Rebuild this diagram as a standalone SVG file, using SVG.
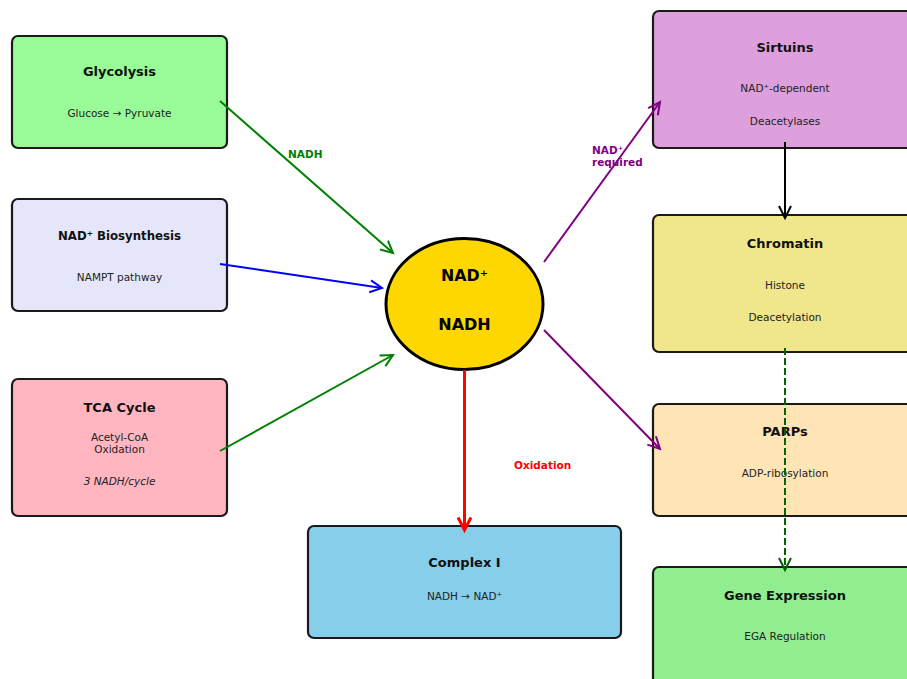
<svg xmlns="http://www.w3.org/2000/svg" width="907" height="679" viewBox="0 0 907 679">
<style>
.box{stroke:#1a1a1a;stroke-width:2.2}
.t{font-family:"DejaVu Sans",sans-serif;font-size:13px;font-weight:bold;fill:#111;text-anchor:middle}
.big{font-size:16px;fill:#000}
.s{font-family:"DejaVu Sans",sans-serif;font-size:10.5px;fill:#222;text-anchor:middle}
.lbl{font-family:"DejaVu Sans",sans-serif;font-size:10.5px;font-weight:bold}
.c{fill:none}
</style>
<defs>
<marker id="ag" markerUnits="userSpaceOnUse" markerWidth="16" markerHeight="16" viewBox="0 0 16 16" refX="13" refY="8" orient="auto"><path d="M1,2 L13,8 L1,14" fill="none" stroke="#008000" stroke-width="2"/></marker>
<marker id="ab" markerUnits="userSpaceOnUse" markerWidth="16" markerHeight="16" viewBox="0 0 16 16" refX="13" refY="8" orient="auto"><path d="M1,2 L13,8 L1,14" fill="none" stroke="#0000ff" stroke-width="2"/></marker>
<marker id="ap" markerUnits="userSpaceOnUse" markerWidth="16" markerHeight="16" viewBox="0 0 16 16" refX="13" refY="8" orient="auto"><path d="M1,2 L13,8 L1,14" fill="none" stroke="#800080" stroke-width="2"/></marker>
<marker id="ar" markerUnits="userSpaceOnUse" markerWidth="18" markerHeight="18" viewBox="0 0 18 18" refX="14" refY="9" orient="auto"><path d="M1.5,2.5 L14,9 L1.5,15.5" fill="none" stroke="#ff0000" stroke-width="3"/></marker>
<marker id="ak" markerUnits="userSpaceOnUse" markerWidth="16" markerHeight="16" viewBox="0 0 16 16" refX="13" refY="8" orient="auto"><path d="M1,2 L13,8 L1,14" fill="none" stroke="#000" stroke-width="2"/></marker>
<marker id="ad" markerUnits="userSpaceOnUse" markerWidth="16" markerHeight="16" viewBox="0 0 16 16" refX="13" refY="8" orient="auto"><path d="M1,2 L13,8 L1,14" fill="none" stroke="#006400" stroke-width="2"/></marker>
</defs>

<g id="glycolysis">
<rect class="box" x="12" y="36" width="215" height="112" rx="6" fill="#98FB98"/>
<text class="t" x="119.5" y="76">Glycolysis</text>
<text class="s" x="119.5" y="117">Glucose → Pyruvate</text>
</g>
<g id="biosynthesis">
<rect class="box" x="12" y="199" width="215" height="112" rx="6" fill="#E6E6FA"/>
<text class="t" x="119.5" y="240" textLength="123" lengthAdjust="spacingAndGlyphs">NAD⁺ Biosynthesis</text>
<text class="s" x="119.5" y="281">NAMPT pathway</text>
</g>
<g id="tca">
<rect class="box" x="12" y="379" width="215" height="137" rx="6" fill="#FFB6C1"/>
<text class="t" x="119.5" y="412">TCA Cycle</text>
<text class="s" x="119.5" y="441">Acetyl-CoA</text>
<text class="s" x="119.5" y="453">Oxidation</text>
<text class="s" x="119.5" y="485" font-style="italic">3 NADH/cycle</text>
</g>
<g id="complex1">
<rect class="box" x="308" y="526" width="313" height="112" rx="6" fill="#87CEEB"/>
<text class="t" x="464.5" y="567">Complex I</text>
<text class="s" x="464.5" y="600">NADH → NAD⁺</text>
</g>
<g id="sirtuins">
<rect class="box" x="653" y="11" width="264" height="137" rx="6" fill="#DDA0DD"/>
<text class="t" x="785" y="52">Sirtuins</text>
<text class="s" x="785" y="92">NAD⁺-dependent</text>
<text class="s" x="785" y="125">Deacetylases</text>
</g>
<g id="chromatin">
<rect class="box" x="653" y="215" width="264" height="137" rx="6" fill="#F0E68C"/>
<text class="t" x="785" y="248">Chromatin</text>
<text class="s" x="785" y="289">Histone</text>
<text class="s" x="785" y="321">Deacetylation</text>
</g>
<g id="parps">
<rect class="box" x="653" y="404" width="264" height="112" rx="6" fill="#FFE4B5"/>
<text class="t" x="785" y="436">PARPs</text>
<text class="s" x="785" y="477">ADP-ribosylation</text>
</g>
<g id="gene">
<rect class="box" x="653" y="567" width="264" height="125" rx="6" fill="#90EE90"/>
<text class="t" x="785" y="600">Gene Expression</text>
<text class="s" x="785" y="640">EGA Regulation</text>
</g>
<g id="nad">
<ellipse cx="464.5" cy="304" rx="78.5" ry="65.5" fill="#FFD700" stroke="#000" stroke-width="3"/>
<text class="t big" x="464.5" y="281" textLength="47" lengthAdjust="spacingAndGlyphs">NAD⁺</text>
<text class="t big" x="464.5" y="329.5">NADH</text>
</g>

<g id="connectors">
<line class="c" x1="220" y1="101" x2="393" y2="253" stroke="#008000" stroke-width="2" marker-end="url(#ag)"/>
<line class="c" x1="220" y1="264" x2="382" y2="288" stroke="#0000ff" stroke-width="2" marker-end="url(#ab)"/>
<line class="c" x1="220" y1="451" x2="393" y2="355" stroke="#008000" stroke-width="2" marker-end="url(#ag)"/>
<line class="c" x1="544" y1="262" x2="660" y2="102" stroke="#800080" stroke-width="2" marker-end="url(#ap)"/>
<line class="c" x1="544" y1="330" x2="660" y2="449" stroke="#800080" stroke-width="2" marker-end="url(#ap)"/>
<line class="c" x1="464.5" y1="370" x2="464.5" y2="530" stroke="#ff0000" stroke-width="3" marker-end="url(#ar)"/>
<line class="c" x1="785" y1="142" x2="785" y2="218" stroke="#000" stroke-width="2" marker-end="url(#ak)"/>
<line class="c" x1="785" y1="348" x2="785" y2="570" stroke="#006400" stroke-width="2" stroke-dasharray="7,3" marker-end="url(#ad)"/>
<text class="lbl" x="288" y="158" fill="#008000">NADH</text>
<text class="lbl" x="592" y="154" fill="#800080">NAD⁺</text>
<text class="lbl" x="592" y="166" fill="#800080">required</text>
<text class="lbl" x="514" y="469" fill="#ff0000">Oxidation</text>
</g>
</svg>
